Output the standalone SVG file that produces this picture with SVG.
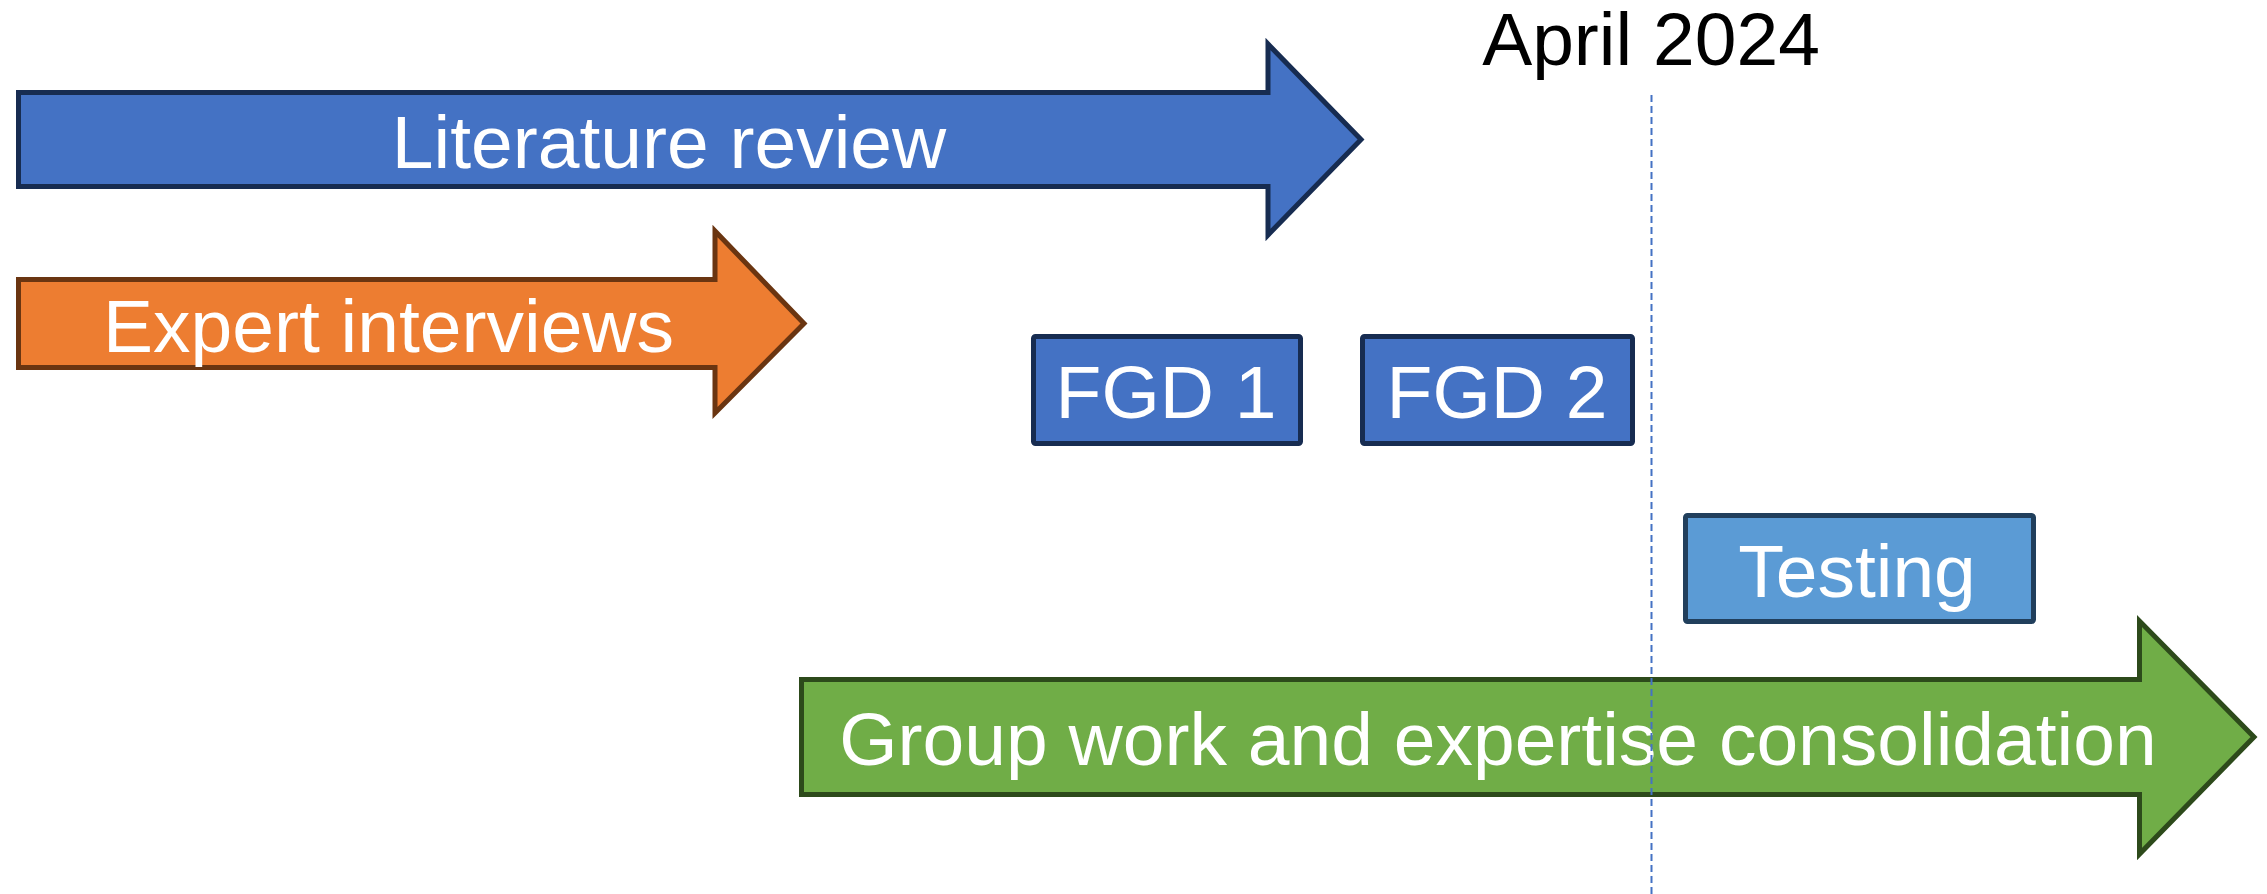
<svg xmlns="http://www.w3.org/2000/svg" width="2267" height="894" viewBox="0 0 2267 894">
<style>
.lbl{font-family:"Liberation Sans",Arial,sans-serif;font-size:75px;fill:#fff;text-anchor:middle}
.blk{fill:#000}
.blue{fill:#4472C4;stroke:#172C51;stroke-width:5;stroke-linejoin:miter}
.orange{fill:#ED7D31;stroke:#6A3511;stroke-width:5}
.green{fill:#70AD47;stroke:#2D4A1B;stroke-width:5}
.test{fill:#5B9BD5;stroke:#213F5C;stroke-width:5}
</style>
<rect width="2267" height="894" fill="#fff"/>
<g id="literature-review">
<polygon class="blue" points="18.5,92.5 1268,92.5 1268,44 1361,139.5 1268,235 1268,186.5 18.5,186.5"/>
<text class="lbl" x="669" y="168">Literature review</text>
</g>
<g id="expert-interviews">
<polygon class="orange" points="18.5,279.5 715,279.5 715,231 804,323.5 715,413 715,367.5 18.5,367.5"/>
<text class="lbl" x="388.5" y="352">Expert interviews</text>
</g>
<g id="fgd1">
<rect class="blue" x="1033.5" y="336.5" width="267" height="107" rx="2"/>
<text class="lbl" x="1166" y="418">FGD 1</text>
</g>
<g id="fgd2">
<rect class="blue" x="1362.5" y="336.5" width="270" height="107" rx="2"/>
<text class="lbl" x="1497" y="418">FGD 2</text>
</g>
<g id="testing">
<rect class="test" x="1685.5" y="515.5" width="348" height="106" rx="2"/>
<text class="lbl" x="1857" y="597">Testing</text>
</g>
<g id="group-work">
<polygon class="green" points="801.5,679.5 2139.5,679.5 2139.5,621 2254,737 2139.5,854 2139.5,794.5 801.5,794.5"/>
<text class="lbl" x="1498" y="765">Group work and expertise consolidation</text>
</g>
<g id="connectors">
<line x1="1651.5" y1="95" x2="1651.5" y2="894" stroke="#4472C4" stroke-width="2" stroke-dasharray="7 4"/>
</g>
<g id="april-2024">
<text class="lbl blk" x="1651" y="65">April 2024</text>
</g>
</svg>
